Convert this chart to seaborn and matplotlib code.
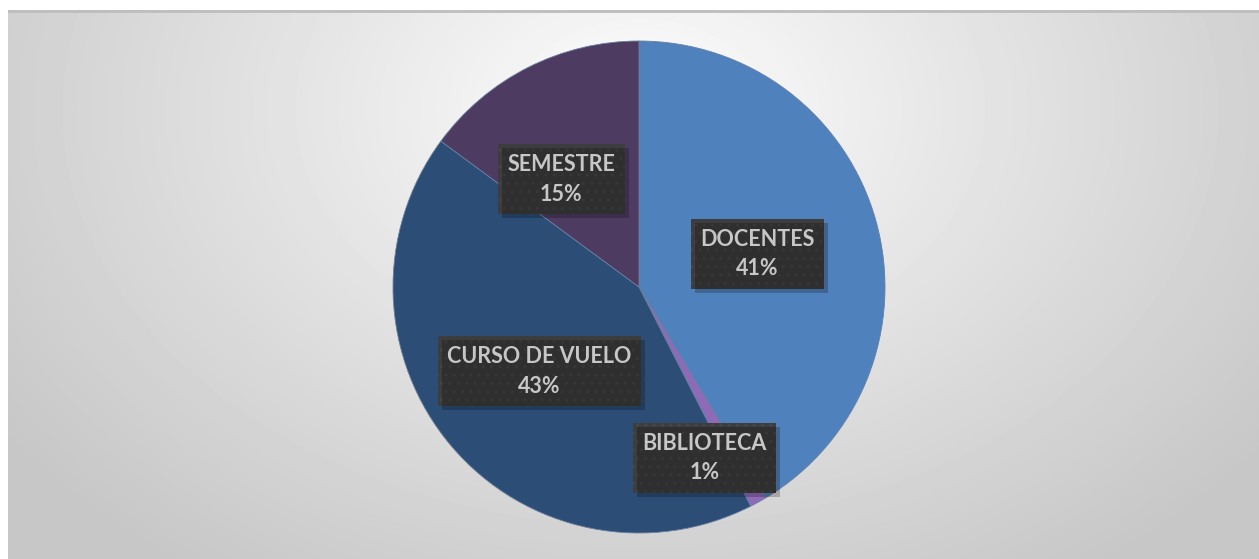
import numpy as np
import matplotlib
matplotlib.use("Agg")
import matplotlib.pyplot as plt
from matplotlib.patches import Rectangle
import seaborn as sns

sns.set_theme(style="white")
plt.rcParams["font.family"] = ["Lato", "DejaVu Sans"]

# datos
categorias = ["DOCENTES", "BIBLIOTECA", "CURSO DE VUELO", "SEMESTRE"]
porcentajes = [41.4, 1.1, 42.6, 14.9]
colores = ["#4F81BD", "#8E6AB8", "#2C4D75", "#4D3B62"]

# posicion de etiquetas (radio relativo y desplazamiento angular)
radio_etq = [0.50, 0.745, 0.53, 0.54]
giro_etq = [0, -8, 0, 9]

W, H = 1259, 559
fig = plt.figure(figsize=(W / 100, H / 100), dpi=100)
fig.patch.set_facecolor("white")

# fondo con degradado radial
bg = fig.add_axes([8 / W, 0, 1 - 8 / W, 1 - 10 / H])
yy, xx = np.mgrid[0:549, 0:1251]
d = np.sqrt(((xx - 632) / 780) ** 2 + ((yy - 100) / 560) ** 2)
val = 1.0 - 0.22 * np.clip(d, 0, 1) ** 0.9
bg.imshow(val, cmap="gray", vmin=0, vmax=1, aspect="auto", interpolation="bilinear")
bg.axhline(0, color="#BDBDBD", lw=2)
bg.set_axis_off()

# pastel
cx, cy, R = 639, 287, 246
ax = fig.add_axes([(cx - R) / W, (H - cy - R) / H, 2 * R / W, 2 * R / H])
wedges, _ = ax.pie(porcentajes, colors=colores, startangle=90, counterclock=False,
                   wedgeprops=dict(linewidth=0.6, edgecolor="#6A7FA0"))
ax.set_xlim(-1, 1)
ax.set_ylim(-1, 1)
ax.set_axis_off()

textos = []
for w, cat, p, r, g in zip(wedges, categorias, porcentajes, radio_etq, giro_etq):
    ang = np.deg2rad((w.theta1 + w.theta2) / 2 + g)
    x, y = r * np.cos(ang), r * np.sin(ang)
    t = ax.text(x, y, f"{cat}\n{round(p):.0f}%", ha="center", va="center",
                fontsize=15.5, fontweight="bold", color="white", linespacing=1.5,
                zorder=5,
                bbox=dict(boxstyle="square,pad=0.45", fc="#3D3D3D", ec="#474747",
                          lw=0, hatch=".."))
    textos.append(t)

# sombra de las cajas
fig.canvas.draw()
for t in textos:
    bb = t.get_bbox_patch().get_window_extent()
    sombra = Rectangle((bb.x0 + 4, bb.y0 - 4), bb.width, bb.height,
                       transform=None, fc=(0, 0, 0, 0.22), ec="none", zorder=4)
    fig.add_artist(sombra)

fig.savefig("out.png", dpi=100)
